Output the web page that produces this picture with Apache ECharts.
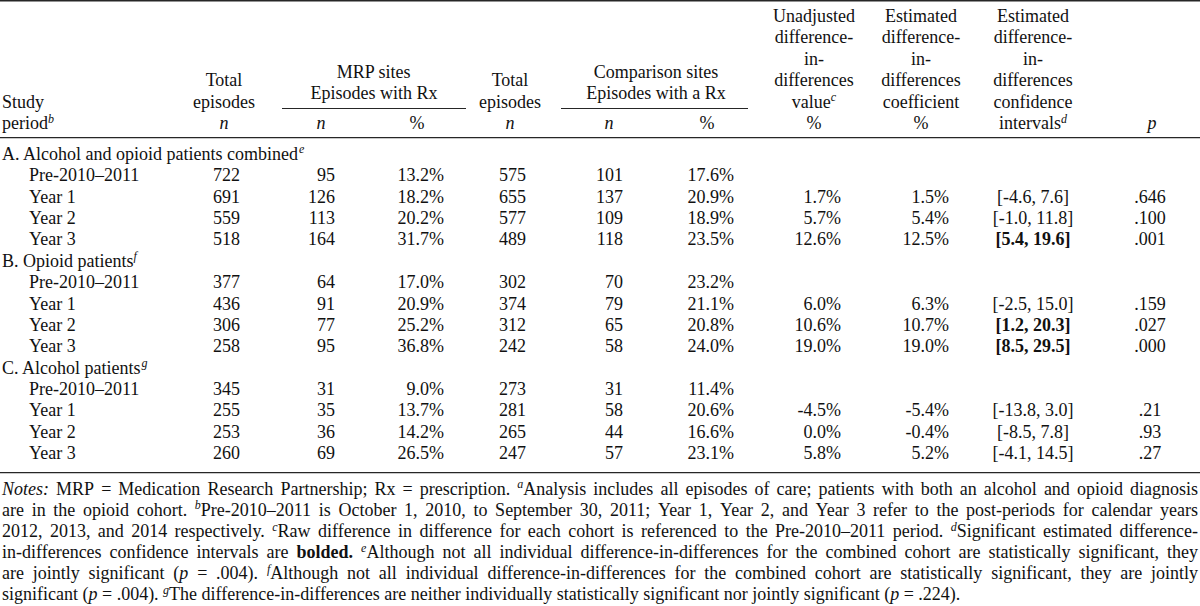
<!DOCTYPE html>
<html>
<head>
<meta charset="utf-8">
<script src="https://cdn.jsdelivr.net/npm/echarts@6/dist/echarts.min.js"></script>
<style>
html,body{margin:0;padding:0;background:#ffffff;}
#chart{width:1200px;height:606px;}
</style>
</head>
<body>
<div id="chart"></div>
<script>
// ---------------- DATA ----------------
const periods = ['Pre-2010–2011', 'Year 1', 'Year 2', 'Year 3'];
const groupLabels = ['A. Alcohol and opioid patients combined', 'B. Opioid patients', 'C. Alcohol patients'];
const groupNoteMarks = ['e', 'f', 'g'];

// 12 data rows: A(Pre,Y1,Y2,Y3), B(...), C(...)
const mrpTotal   = [722, 691, 559, 518,  377, 436, 306, 258,  345, 255, 253, 260];
const mrpRxN     = [95, 126, 113, 164,   64, 91, 77, 95,      31, 35, 36, 69];
const mrpRxPct   = [13.2, 18.2, 20.2, 31.7,  17.0, 20.9, 25.2, 36.8,  9.0, 13.7, 14.2, 26.5];
const cmpTotal   = [575, 655, 577, 489,  302, 374, 312, 242,  273, 281, 265, 247];
const cmpRxN     = [101, 137, 109, 118,  70, 79, 65, 58,      31, 58, 44, 57];
const cmpRxPct   = [17.6, 20.9, 18.9, 23.5,  23.2, 21.1, 20.8, 24.0,  11.4, 20.6, 16.6, 23.1];
const unadjDiD   = [null, 1.7, 5.7, 12.6,  null, 6.0, 10.6, 19.0,  null, -4.5, 0.0, 5.8];
const estDiD     = [null, 1.5, 5.4, 12.5,  null, 6.3, 10.7, 19.0,  null, -5.4, -0.4, 5.2];
const ciLow      = [null, -4.6, -1.0, 5.4,  null, -2.5, 1.2, 8.5,  null, -13.8, -8.5, -4.1];
const ciHigh     = [null, 7.6, 11.8, 19.6,  null, 15.0, 20.3, 29.5,  null, 3.0, 7.8, 14.5];
const pValues    = [null, '.646', '.100', '.001',  null, '.159', '.027', '.000',  null, '.21', '.93', '.27'];

// header texts ({i:..} italic, {b:..} bold, {s:..} superscript)
const headStudy   = ['Study', 'period{s:b}'];
const headTotal   = ['Total', 'episodes', '{i:n}'];
const headMrp     = ['MRP sites', 'Episodes with Rx'];
const headCmp     = ['Comparison sites', 'Episodes with a Rx'];
const headSubNP   = ['{i:n}', '%'];
const headUnadj   = ['Unadjusted', 'difference-', 'in-', 'differences', 'value{s:c}', '%'];
const headCoef    = ['Estimated', 'difference-', 'in-', 'differences', 'coefficient', '%'];
const headCI      = ['Estimated', 'difference-', 'in-', 'differences', 'confidence', 'intervals{s:d}'];
const headP       = ['{i:p}'];

const noteLines = [
  '{i:Notes:} MRP = Medication Research Partnership; Rx = prescription. {s:a}Analysis includes all episodes of care; patients with both an alcohol and opioid diagnosis',
  'are in the opioid cohort. {s:b}Pre-2010–2011 is October 1, 2010, to September 30, 2011; Year 1, Year 2, and Year 3 refer to the post-periods for calendar years',
  '2012, 2013, and 2014 respectively. {s:c}Raw difference in difference for each cohort is referenced to the Pre-2010–2011 period. {s:d}Significant estimated difference-',
  'in-differences confidence intervals are {b:bolded.} {s:e}Although not all individual difference-in-differences for the combined cohort are statistically significant, they',
  'are jointly significant ({i:p} = .004). {s:f}Although not all individual difference-in-differences for the combined cohort are statistically significant, they are jointly',
  'significant ({i:p} = .004). {s:g}The difference-in-differences are neither individually statistically significant nor jointly significant ({i:p} = .224).'
];

// ---------------- LAYOUT / STYLE ----------------
const FONT = '"Liberation Serif", "Times New Roman", Times, serif';
const FS = 18, SUP_FS = 12, SUP_DY = -4.5;
const INK = '#111111';
const RULE = '#262626';
const COL_X = [240, 335, 444, 526, 623, 734, 841, 949, 1033, 1150];
const COL_ALIGN = ['right','right','right','right','right','right','right','right','center','center'];
const GROUP_X = 2, PERIOD_X = 29;
const HEAD_Y = [16, 37.4, 58.8, 80.2, 101.6, 123];
const SPAN_HEAD_Y = [72.2, 93.4];

const mctx = document.createElement('canvas').getContext('2d');
function styleOf(r) {
  return { size: r.s ? SUP_FS : FS, italic: !!(r.i || r.s), bold: !!r.b };
}
function fontStr(st) {
  return (st.italic ? 'italic ' : '') + (st.bold ? 'bold ' : '') + st.size + 'px ' + FONT;
}
function measure(t, st) { mctx.font = fontStr(st); return mctx.measureText(t).width; }
function parse(str) {
  const runs = []; const re = /\{([ibs]):([^}]*)\}/g; let last = 0, m;
  while ((m = re.exec(str))) {
    if (m.index > last) runs.push({ t: str.slice(last, m.index) });
    const r = { t: m[2] }; r[m[1]] = true; runs.push(r);
    last = re.lastIndex;
  }
  if (last < str.length) runs.push({ t: str.slice(last) });
  return runs;
}
function textEl(t, x, y, st) {
  return {
    type: 'text', x: x, y: y, silent: true,
    style: {
      text: t, fill: INK, fontSize: st.size, fontFamily: FONT,
      fontStyle: st.italic ? 'italic' : 'normal', fontWeight: st.bold ? 'bold' : 'normal',
      align: 'left', verticalAlign: 'middle', textAlign: 'left', textVerticalAlign: 'middle'
    }
  };
}
function runEls(str, x, y, align) {
  const runs = parse(str);
  const ws = runs.map(r => measure(r.t, styleOf(r)));
  const total = ws.reduce((a, b) => a + b, 0);
  let cx = align === 'left' ? x : (align === 'center' ? x - total / 2 : x - total);
  return runs.map((r, k) => { const el = textEl(r.t, cx, y + (r.s ? SUP_DY : 0), styleOf(r)); cx += ws[k]; return el; });
}
function justifyEls(str, x0, x1, y, justify) {
  const runs = parse(str);
  const words = []; let cur = [];
  runs.forEach(r => {
    r.t.split(' ').forEach((p, k) => {
      if (k > 0) { if (cur.length) words.push(cur); cur = []; }
      if (p) cur.push(Object.assign({}, r, { t: p }));
    });
  });
  if (cur.length) words.push(cur);
  const ww = words.map(w => w.reduce((a, r) => a + measure(r.t, styleOf(r)), 0));
  const sum = ww.reduce((a, b) => a + b, 0);
  const gap = justify ? (x1 - x0 - sum) / (words.length - 1) : measure(' ', { size: FS });
  const els = []; let cx = x0;
  words.forEach((w, k) => {
    let wx = cx;
    w.forEach(r => { const st = styleOf(r); els.push(textEl(r.t, wx, y + (r.s ? SUP_DY : 0), st)); wx += measure(r.t, st); });
    cx += ww[k] + gap;
  });
  return els;
}
const pct = v => v.toFixed(1) + '%';

// ---------------- TABLE CELLS (custom series data) ----------------
const rowNames = [];
const cells = [];
groupLabels.forEach((g, gi) => {
  const gr = rowNames.length;
  rowNames.push(g);
  cells.push({ value: [GROUP_X, gr], text: g + '{s:' + groupNoteMarks[gi] + '}', align: 'left' });
  periods.forEach((p, pi) => {
    const k = gi * 4 + pi;
    const r = rowNames.length;
    rowNames.push(groupLabels[gi] + ' / ' + p);
    cells.push({ value: [PERIOD_X, r], text: p, align: 'left' });
    const vals = [
      String(mrpTotal[k]), String(mrpRxN[k]), pct(mrpRxPct[k]),
      String(cmpTotal[k]), String(cmpRxN[k]), pct(cmpRxPct[k]),
      unadjDiD[k] == null ? null : pct(unadjDiD[k]),
      estDiD[k] == null ? null : pct(estDiD[k]),
      ciLow[k] == null ? null : ('[' + ciLow[k].toFixed(1) + ', ' + ciHigh[k].toFixed(1) + ']'),
      pValues[k]
    ];
    vals.forEach((v, c) => {
      if (v == null) return;
      const bold = c === 8 && ciLow[k] > 0;
      cells.push({ value: [COL_X[c], r], text: bold ? '{b:' + v + '}' : v, align: COL_ALIGN[c] });
    });
  });
});

// ---------------- HEADER + RULES + NOTES (graphic) ----------------
const g = [];
function line(x1, y1, x2, y2, w) {
  g.push({ type: 'line', silent: true, shape: { x1, y1, x2, y2 }, style: { stroke: RULE, lineWidth: w } });
}
line(0, 0.8, 1200, 0.8, 1.6);
line(0, 137.7, 1200, 137.7, 1.3);
line(0, 472.7, 1200, 472.7, 1.3);
line(282, 108.5, 466, 108.5, 1.1);
line(561, 108.5, 748, 108.5, 1.1);

headStudy.forEach((t, k) => g.push(...runEls(t, 2, HEAD_Y[4 + k], 'left')));
[224, 510].forEach(cx => headTotal.forEach((t, k) => g.push(...runEls(t, cx, HEAD_Y[3 + k], 'center'))));
headMrp.forEach((t, k) => g.push(...runEls(t, 374, SPAN_HEAD_Y[k], 'center')));
headCmp.forEach((t, k) => g.push(...runEls(t, 656, SPAN_HEAD_Y[k], 'center')));
[[321, 417], [609, 707]].forEach(pair => pair.forEach((cx, k) => g.push(...runEls(headSubNP[k], cx, HEAD_Y[5], 'center'))));
headUnadj.forEach((t, k) => g.push(...runEls(t, 814, HEAD_Y[k], 'center')));
headCoef.forEach((t, k) => g.push(...runEls(t, 921, HEAD_Y[k], 'center')));
headCI.forEach((t, k) => g.push(...runEls(t, 1033, HEAD_Y[k], 'center')));
headP.forEach(t => g.push(...runEls(t, 1152, HEAD_Y[5], 'center')));

const NOTE_Y0 = 488.8, NOTE_DY = 21.1;
noteLines.forEach((t, k) => g.push(...justifyEls(t, 2, 1198, NOTE_Y0 + NOTE_DY * k, k < noteLines.length - 1)));

// ---------------- CHART ----------------
const chart = echarts.init(document.getElementById('chart'), null, { renderer: 'svg' });
chart.setOption({
  backgroundColor: '#ffffff',
  animation: false,
  grid: { left: 0, right: 0, top: 143.3, height: 320.4, containLabel: false },
  xAxis: { type: 'value', min: 0, max: 1200, show: false },
  yAxis: { type: 'category', data: rowNames, inverse: true, show: false },
  series: [{
    type: 'custom',
    silent: true,
    data: cells,
    encode: { x: 0, y: 1 },
    renderItem: function (params, api) {
      const cell = cells[params.dataIndex];
      const pt = api.coord([api.value(0), api.value(1)]);
      return { type: 'group', children: runEls(cell.text, pt[0], pt[1], cell.align) };
    }
  }],
  graphic: { elements: g }
});
</script>
</body>
</html>
